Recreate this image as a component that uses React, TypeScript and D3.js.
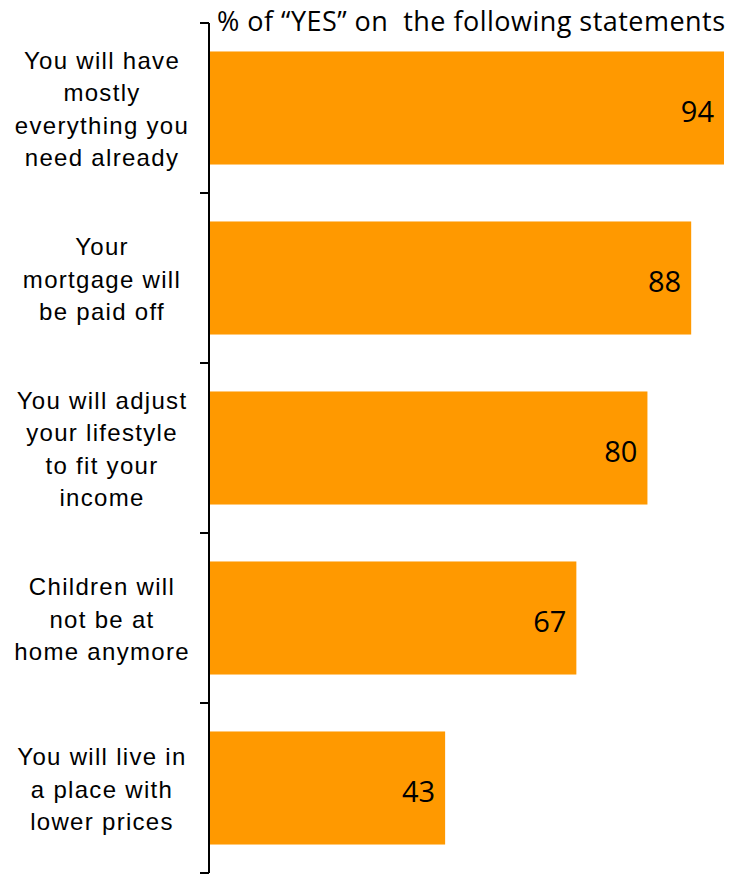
import React from "react";
import * as d3 from "d3";

const categories: string[][] = [
  ["You will have", "mostly", "everything you", "need already"],
  ["Your", "mortgage will", "be paid off"],
  ["You will adjust", "your lifestyle", "to fit your", "income"],
  ["Children will", "not be at", "home anymore"],
  ["You will live in", "a place with", "lower prices"],
];
const values: number[] = [94, 88, 80, 67, 43];
const title = "% of \u201CYES\u201D on  the following statements";

export default function App() {
  const W = 742, H = 874;
  const ids = categories.map((_, i) => String(i));
  const y = d3.scaleBand<string>().domain(ids).range([23, 873]).paddingInner(0.335).paddingOuter(0.1675);
  const x = d3.scaleLinear().domain([0, 100]).range([210, 756.8]);
  const step = y.step();
  const ticks = ids.map((_, i) => 23 + i * step).concat([873]);
  const lineH = 32.5;
  return (
    <svg width={W} height={H} style={{ position: "absolute", left: 0, top: 0 }}>
      <rect width={W} height={H} fill="#fff" />
      {values.map((v, i) => (
        <g key={i}>
          <rect x={x(0)} y={y(String(i))!} width={x(v) - x(0)} height={y.bandwidth()} fill="#FF9900" />
          <text x={x(v) - 10} y={y(String(i))! + y.bandwidth() / 2 + 4} dy="0.36em" textAnchor="end"
            fontFamily="'Open Sans', sans-serif" fontSize={29} fill="#000">{v}</text>
        </g>
      ))}
      <line x1={209} x2={209} y1={23} y2={873} stroke="#000" strokeWidth={2} />
      {ticks.map((t, i) => (
        <line key={i} x1={200} x2={209} y1={t} y2={t} stroke="#000" strokeWidth={2} />
      ))}
      {categories.map((lines, i) => {
        const cy = y(String(i))! + y.bandwidth() / 2 + 1;
        const start = cy - ((lines.length - 1) * lineH) / 2;
        return (
          <text key={i} textAnchor="middle" fontFamily="'Liberation Sans', Arial, sans-serif" fontSize={24}
            letterSpacing={1.3} fill="#000">
            {lines.map((l, j) => (
              <tspan key={j} x={102} y={start + j * lineH} dy="0.36em">{l}</tspan>
            ))}
          </text>
        );
      })}
      <text x={217} y={21} dy="0.36em" fontFamily="'Open Sans', sans-serif" fontSize={27}
        textLength={508} lengthAdjust="spacing" style={{ whiteSpace: "pre" }} fill="#000">{title}</text>
    </svg>
  );
}
